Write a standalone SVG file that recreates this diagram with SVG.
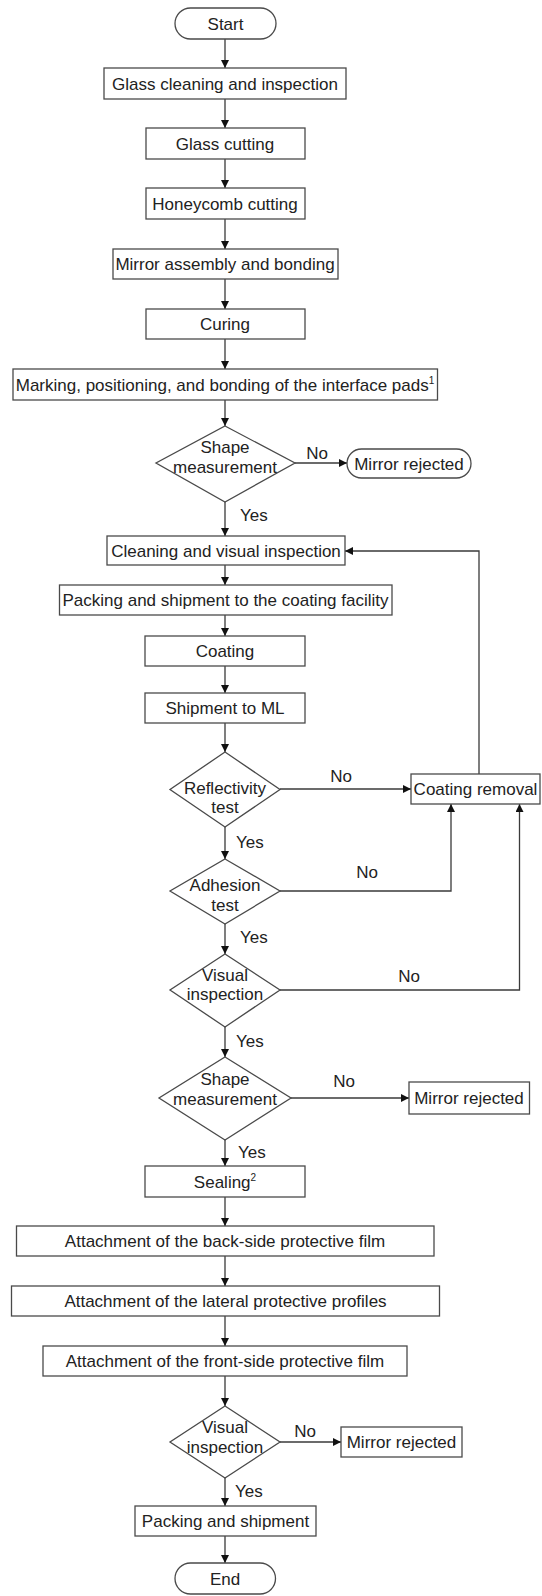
<svg xmlns="http://www.w3.org/2000/svg" width="542" height="1596" viewBox="0 0 542 1596">
<style>
.n{fill:#fff;stroke:#4a4a4a;stroke-width:1.3}
.t{font-family:"Liberation Sans",Arial,sans-serif;font-size:17px;fill:#222;text-anchor:middle}
.l{font-family:"Liberation Sans",Arial,sans-serif;font-size:17px;fill:#222}
.c{fill:none;stroke:#3a3a3a;stroke-width:1.3;marker-end:url(#a)}
.sup{font-size:10px}
</style>
<defs>
<marker id="a" viewBox="0 0 10 10" refX="10" refY="5" markerWidth="8" markerHeight="8" markerUnits="userSpaceOnUse" orient="auto">
<path d="M0,0 L10,5 L0,10 z" fill="#111"/>
</marker>
</defs>
<rect width="542" height="1596" fill="#fff"/>
<g id="connectors">
<path class="c" d="M225,39 V68"/>
<path class="c" d="M225,99 V128"/>
<path class="c" d="M225,159 V188"/>
<path class="c" d="M225,219 V249"/>
<path class="c" d="M225,279 V309"/>
<path class="c" d="M225,339 V369"/>
<path class="c" d="M225,400 V426"/>
<path class="c" d="M295,463 H347"/>
<path class="c" d="M225,502 V536"/>
<path class="c" d="M225,565 V585"/>
<path class="c" d="M225,615 V636"/>
<path class="c" d="M225,666 V693"/>
<path class="c" d="M225,723 V752"/>
<path class="c" d="M280,789 H411"/>
<path class="c" d="M225,827 V859"/>
<path class="c" d="M280,891 H451 V804"/>
<path class="c" d="M225,924 V954"/>
<path class="c" d="M280,990 H519.5 V804"/>
<path class="c" d="M479,774 V551 H345"/>
<path class="c" d="M225,1027 V1057"/>
<path class="c" d="M291,1098 H409"/>
<path class="c" d="M225,1140 V1166"/>
<path class="c" d="M225,1197 V1226"/>
<path class="c" d="M225,1256 V1286"/>
<path class="c" d="M225,1316 V1346"/>
<path class="c" d="M225,1376 V1406"/>
<path class="c" d="M280,1442 H341"/>
<path class="c" d="M225,1478 V1506"/>
<path class="c" d="M225,1536 V1563"/>
<text class="t" x="317" y="459">No</text>
<text class="l" x="240" y="521">Yes</text>
<text class="t" x="341" y="782">No</text>
<text class="l" x="236" y="848">Yes</text>
<text class="t" x="367" y="878">No</text>
<text class="l" x="240" y="943">Yes</text>
<text class="t" x="409" y="982">No</text>
<text class="l" x="236" y="1047">Yes</text>
<text class="t" x="344" y="1087">No</text>
<text class="l" x="238" y="1158">Yes</text>
<text class="t" x="305" y="1437">No</text>
<text class="l" x="235" y="1497">Yes</text>
</g>
<g id="start"><rect class="n" x="175" y="8" width="101" height="31" rx="15.5"/><text class="t" x="225.5" y="29.5">Start</text></g>
<g id="glass-cleaning"><rect class="n" x="104" y="68" width="242" height="31"/><text class="t" x="225" y="89.5">Glass cleaning and inspection</text></g>
<g id="glass-cutting"><rect class="n" x="146" y="128" width="159" height="31"/><text class="t" x="225" y="149.5">Glass cutting</text></g>
<g id="honeycomb-cutting"><rect class="n" x="146" y="188" width="159" height="31"/><text class="t" x="225" y="209.5">Honeycomb cutting</text></g>
<g id="mirror-assembly"><rect class="n" x="113" y="249" width="225" height="30"/><text class="t" x="225" y="270">Mirror assembly and bonding</text></g>
<g id="curing"><rect class="n" x="146" y="309" width="159" height="30"/><text class="t" x="225" y="330">Curing</text></g>
<g id="marking"><rect class="n" x="13" y="369" width="424.5" height="31"/><text class="t" x="225" y="390.5">Marking, positioning, and bonding of the interface pads<tspan class="sup" dy="-7">1</tspan></text></g>
<g id="shape-1"><polygon class="n" points="225,426 295,463 225,502 156,463"/><text class="t" x="225" y="453">Shape</text><text class="t" x="225" y="473">measurement</text></g>
<g id="rejected-1"><rect class="n" x="347" y="449" width="124" height="29" rx="14.5"/><text class="t" x="409" y="469.5">Mirror rejected</text></g>
<g id="cleaning-visual"><rect class="n" x="107" y="536" width="238" height="29"/><text class="t" x="226" y="556.5">Cleaning and visual inspection</text></g>
<g id="packing-coating"><rect class="n" x="59.5" y="585" width="332.5" height="30"/><text class="t" x="225.5" y="606">Packing and shipment to the coating facility</text></g>
<g id="coating"><rect class="n" x="145" y="636" width="160" height="30"/><text class="t" x="225" y="657">Coating</text></g>
<g id="shipment-ml"><rect class="n" x="145" y="693" width="160" height="30"/><text class="t" x="225" y="714">Shipment to ML</text></g>
<g id="reflectivity"><polygon class="n" points="225,752 280,789.5 225,827 170,789.5"/><text class="t" x="225" y="794">Reflectivity</text><text class="t" x="225" y="813">test</text></g>
<g id="coating-removal"><rect class="n" x="411" y="774" width="129" height="30"/><text class="t" x="475.5" y="795">Coating removal</text></g>
<g id="adhesion"><polygon class="n" points="225,859 280,891 225,924 170,891"/><text class="t" x="225" y="891">Adhesion</text><text class="t" x="225" y="911">test</text></g>
<g id="visual-1"><polygon class="n" points="225,954 280,990 225,1027 170,990"/><text class="t" x="225" y="981">Visual</text><text class="t" x="225" y="1000">inspection</text></g>
<g id="shape-2"><polygon class="n" points="225,1057 291,1098 225,1140 159,1098"/><text class="t" x="225" y="1085">Shape</text><text class="t" x="225" y="1105">measurement</text></g>
<g id="rejected-2"><rect class="n" x="409" y="1082" width="120.5" height="32"/><text class="t" x="469" y="1104">Mirror rejected</text></g>
<g id="sealing"><rect class="n" x="145" y="1166" width="160" height="31"/><text class="t" x="225" y="1187.5">Sealing<tspan class="sup" dy="-7">2</tspan></text></g>
<g id="back-side"><rect class="n" x="16.5" y="1226" width="417.5" height="30"/><text class="t" x="225" y="1247">Attachment of the back-side protective film</text></g>
<g id="lateral"><rect class="n" x="11.5" y="1286" width="428" height="30"/><text class="t" x="225.5" y="1307">Attachment of the lateral protective profiles</text></g>
<g id="front-side"><rect class="n" x="43" y="1346" width="364" height="30"/><text class="t" x="225" y="1367">Attachment of the front-side protective film</text></g>
<g id="visual-2"><polygon class="n" points="225,1406 280,1442 225,1478 170,1442"/><text class="t" x="225" y="1433">Visual</text><text class="t" x="225" y="1453">inspection</text></g>
<g id="rejected-3"><rect class="n" x="341" y="1427" width="121" height="30"/><text class="t" x="401.5" y="1448">Mirror rejected</text></g>
<g id="packing-shipment"><rect class="n" x="135" y="1506" width="181" height="30"/><text class="t" x="225.5" y="1527">Packing and shipment</text></g>
<g id="end"><rect class="n" x="175" y="1563" width="100.5" height="31" rx="15.5"/><text class="t" x="225" y="1584.5">End</text></g>
</svg>
